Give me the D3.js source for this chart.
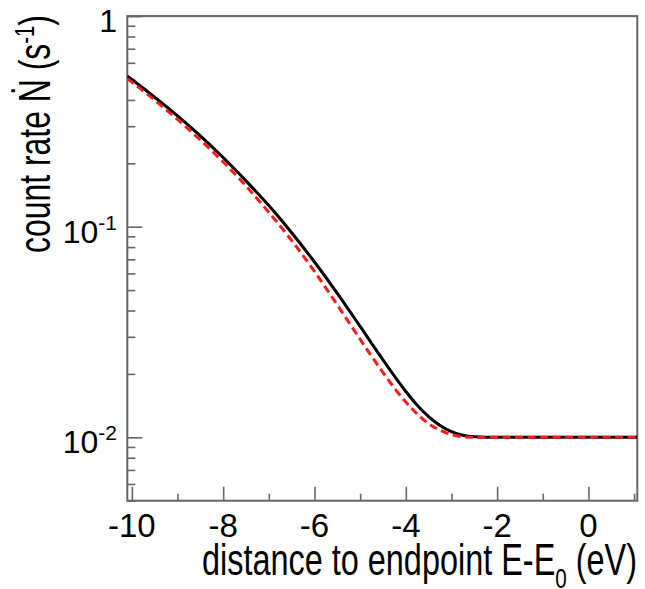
<!DOCTYPE html>
<html>
<head>
<meta charset="utf-8">
<script src="https://cdn.jsdelivr.net/npm/d3@7"></script>
<style>
  html, body { margin: 0; padding: 0; background: #fff; }
  svg { display: block; }
  text { font-family: "Liberation Sans", Arial, Helvetica, sans-serif; fill: #000; }
</style>
</head>
<body>
<svg id="chart" width="645" height="589"></svg>
<script>
// Energy below the endpoint, E - E0 (eV)
const energy = [-10.1, -10, -9.5, -9, -8.5, -8, -7.5, -7, -6.5, -6, -5.5, -5, -4.5, -4,
                -3.75, -3.5, -3.25, -3, -2.75, -2.5, -2.25, -2, -1, 0, 1.07];
// Count rate (1/s), solid black model
const rateSolid = [0.519, 0.500, 0.412, 0.336, 0.270, 0.213, 0.165, 0.126, 0.0936, 0.0680,
                   0.0483, 0.0336, 0.0233, 0.0165, 0.0142, 0.01254, 0.01138, 0.01064, 0.01023,
                   0.01005, 0.0100, 0.0100, 0.0100, 0.0100, 0.0100];
// Count rate (1/s), dashed red model
const rateDashed = [0.505, 0.486, 0.399, 0.323, 0.258, 0.203, 0.156, 0.117, 0.0860, 0.0613,
                    0.0425, 0.0292, 0.0203, 0.0147, 0.0129, 0.0116, 0.0108, 0.0103, 0.01007,
                    0.0100, 0.0100, 0.0100, 0.0100, 0.0100, 0.0100];

const xMajorTicks = [-10, -8, -6, -4, -2, 0];
const xMinorTicks = [-9, -7, -5, -3, -1, 1];
const yMajorTicks = [0.01, 0.1, 1];
const yMajorLabels = [["10", "-2"], ["10", "-1"], ["1", ""]];
const yMinorTicks = [0.005, 0.006, 0.007, 0.008, 0.009,
                     0.02, 0.03, 0.04, 0.05, 0.06, 0.07, 0.08, 0.09,
                     0.2, 0.3, 0.4, 0.5, 0.6, 0.7, 0.8, 0.9];

const frame = { left: 127.3, right: 637.3, top: 16.1, bottom: 500.7 };
const axisColor = "#666666";

const svg = d3.select("#chart");

const x = d3.scaleLinear().domain([-10.1, 1.07]).range([frame.left, frame.right]);
const y = d3.scaleLog().domain([0.005, 1]).range([frame.bottom, frame.top]);

// Bottom axis: inward ticks, labels drawn separately
const xMajorAxis = d3.axisTop(x).tickValues(xMajorTicks).tickSize(14).tickFormat("");
const xMinorAxis = d3.axisTop(x).tickValues(xMinorTicks).tickSize(7).tickFormat("");
[xMajorAxis, xMinorAxis].forEach(ax => {
  const g = svg.append("g").attr("transform", `translate(0,${frame.bottom})`).call(ax);
  g.select(".domain").remove();
  g.selectAll("line").attr("stroke", axisColor).attr("stroke-width", 1.6);
});

// Left axis: inward ticks
const yMajorAxis = d3.axisRight(y).tickValues(yMajorTicks).tickSize(15).tickFormat("");
const yMinorAxis = d3.axisRight(y).tickValues(yMinorTicks).tickSize(8).tickFormat("");
[yMajorAxis, yMinorAxis].forEach(ax => {
  const g = svg.append("g").attr("transform", `translate(${frame.left},0)`).call(ax);
  g.select(".domain").remove();
  g.selectAll("line").attr("stroke", axisColor).attr("stroke-width", 1.6);
});

// Plot frame
svg.append("rect")
  .attr("x", frame.left).attr("y", frame.top)
  .attr("width", frame.right - frame.left).attr("height", frame.bottom - frame.top)
  .attr("fill", "none").attr("stroke", axisColor).attr("stroke-width", 2);

// Curves
const line = (vals) => d3.line()
  .x((d, i) => x(energy[i]))
  .y(d => y(d))
  .curve(d3.curveMonotoneX)(vals);

svg.append("clipPath").attr("id", "plotArea")
  .append("rect")
  .attr("x", frame.left).attr("y", frame.top)
  .attr("width", frame.right - frame.left).attr("height", frame.bottom - frame.top);

svg.append("path")
  .attr("clip-path", "url(#plotArea)")
  .attr("d", line(rateSolid))
  .attr("fill", "none").attr("stroke", "#000").attr("stroke-width", 3);

svg.append("path")
  .attr("clip-path", "url(#plotArea)")
  .attr("d", line(rateDashed))
  .attr("fill", "none").attr("stroke", "#ff1a1a").attr("stroke-width", 3)
  .attr("stroke-dasharray", "8,4.5");

// X tick labels
svg.append("g").selectAll("text").data(xMajorTicks).join("text")
  .attr("x", d => x(d))
  .attr("y", 537)
  .attr("text-anchor", "middle")
  .attr("font-size", 33)
  .text(d => d3.format("d")(d).replace("−", "-"));

// Y tick labels (powers of ten)
const yl = svg.append("g").selectAll("text").data(yMajorTicks).join("text")
  .attr("x", 117)
  .attr("y", d => y(d) + 16)
  .attr("text-anchor", "end")
  .attr("font-size", 32);
yl.append("tspan").text((d, i) => yMajorLabels[i][0]);
yl.append("tspan")
  .attr("dy", -13)
  .attr("font-size", 21)
  .text((d, i) => yMajorLabels[i][1]);

// X axis title
const xt = svg.append("text")
  .attr("x", 202).attr("y", 575)
  .attr("font-size", 44)
  .attr("textLength", 435)
  .attr("lengthAdjust", "spacingAndGlyphs");
xt.append("tspan").text("distance to endpoint E-E");
xt.append("tspan").attr("font-size", 28).attr("dy", 13).text("0");
xt.append("tspan").attr("dy", -13).text(" (eV)");

// Y axis title
const yt = svg.append("text")
  .attr("transform", "translate(50,253) rotate(-90)")
  .attr("font-size", 44)
  .attr("textLength", 238)
  .attr("lengthAdjust", "spacingAndGlyphs");
yt.append("tspan").text("count rate Ṅ (s");
yt.append("tspan").attr("font-size", 28).attr("dy", -16).text("-1");
yt.append("tspan").attr("dy", 16).text(")");
</script>
</body>
</html>
